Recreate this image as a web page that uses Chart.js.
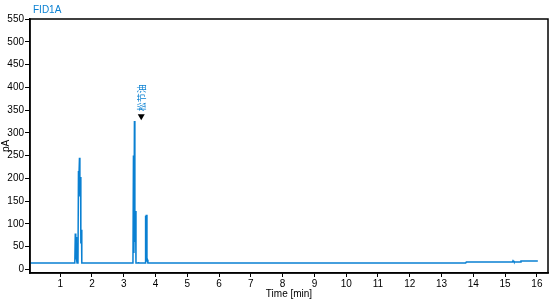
<!DOCTYPE html>
<html>
<head>
<meta charset="utf-8">
<script src="https://cdn.jsdelivr.net/npm/chart.js@4"></script>
<style>
  html, body { margin: 0; padding: 0; background: #fff; }
  #wrap { width: 554px; height: 300px; }
</style>
</head>
<body>
<div id="wrap"><canvas id="chart"></canvas></div>
<script>
// chromatogram trace FID1A
const times = [0.05, 1.46, 1.475, 1.49, 1.50, 1.515, 1.53, 1.56, 1.575, 1.585, 1.607, 1.62, 1.64, 1.65, 1.67, 1.68,
  3.29, 3.305, 3.32, 3.336, 3.35, 3.37, 3.385, 3.45, 3.46, 3.47, 3.67, 3.68, 3.695, 3.71, 3.73, 3.745, 3.76,
  13.76, 13.78, 15.23, 15.25, 15.28, 15.48, 15.5, 16.03];
const signal = [14, 14, 79, 22, 71, 22, 14, 16, 216, 190, 245, 160, 203, 57, 87, 14,
  14, 250, 36, 326, 60, 128, 14, 14, 16, 14, 14, 118, 60, 120, 20, 21, 14,
  14, 16, 16, 19, 16, 16, 18.5, 18.5];

const xTicks = [1, 2, 3, 4, 5, 6, 7, 8, 9, 10, 11, 12, 13, 14, 15, 16];
const yTicks = [0, 25, 50, 75, 100, 125, 150, 175, 200, 225, 250, 275, 300, 325, 350, 375, 400, 425, 450, 475, 500, 525, 550];

const peakNames = ['松节油'];
const peakTimes = [3.55];
const peakValues = [332];

const blue = '#0a80d2';
const font = 'Arial, "Liberation Sans", sans-serif';

let points = times.map((t, i) => ({ x: t, y: signal[i] }));

const extras = {
  id: 'extras',
  afterDraw(c) {
    const ctx = c.ctx;
    const a = c.chartArea;
    ctx.save();
    ctx.strokeStyle = '#000';
    ctx.lineWidth = 1.5;
    ctx.strokeRect(a.left, a.top, a.right - a.left, a.bottom - a.top);

    ctx.fillStyle = blue;
    ctx.font = '10px ' + font;
    ctx.textBaseline = 'middle';
    ctx.textAlign = 'left';
    ctx.fillText('FID1A', 33, 10);

    const xs = c.scales.x, ys = c.scales.y;
    peakNames.forEach((name, i) => {
      let px = xs.getPixelForValue(peakTimes[i]);
      let py = ys.getPixelForValue(peakValues[i]);
      ctx.fillStyle = '#000';
      ctx.beginPath();
      ctx.moveTo(px - 3.5, py - 4);
      ctx.lineTo(px + 3.5, py - 4);
      ctx.lineTo(px, py + 2);
      ctx.closePath();
      ctx.fill();
      ctx.save();
      ctx.translate(px, py - 7);
      ctx.rotate(-Math.PI / 2);
      ctx.fillStyle = blue;
      ctx.font = '9px "Noto Sans CJK SC", sans-serif';
      ctx.textAlign = 'left';
      ctx.textBaseline = 'middle';
      ctx.fillText(name, 0, 0);
      ctx.restore();
    });
    ctx.restore();
  }
};

let chart = new Chart(document.getElementById('chart').getContext('2d'), {
  type: 'line',
  data: {
    datasets: [{
      data: points,
      borderColor: blue,
      borderWidth: 1.5,
      pointRadius: 0,
      tension: 0,
      fill: false
    }]
  },
  options: {
    responsive: true,
    maintainAspectRatio: false,
    animation: false,
    layout: { padding: { top: 19, right: 6, left: 0, bottom: 0 } },
    plugins: { legend: { display: false }, tooltip: { enabled: false } },
    scales: {
      x: {
        type: 'linear',
        min: 0.05,
        max: 16.35,
        afterBuildTicks: s => { s.ticks = xTicks.map(v => ({ value: v })); },
        afterFit: s => { s.height = 27; },
        grid: { drawOnChartArea: false, tickLength: 4, color: '#000', lineWidth: 1 },
        border: { color: '#000', width: 1.5 },
        ticks: { color: '#000', font: { size: 10, family: font }, padding: 1, maxRotation: 0 },
        title: { display: true, text: 'Time [min]', color: '#000', font: { size: 10, family: font }, padding: { top: 0, bottom: 0 } }
      },
      y: {
        min: -8,
        max: 550,
        afterBuildTicks: s => { s.ticks = yTicks.map(v => ({ value: v })); },
        afterFit: s => { s.width = 30; },
        grid: { drawOnChartArea: false, tickLength: 5, color: '#000', lineWidth: 1 },
        border: { color: '#000', width: 1.5 },
        ticks: { color: '#000', font: { size: 10, family: font }, padding: 1 },
        title: { display: true, text: 'pA', color: '#000', font: { size: 10, family: font }, padding: 0 }
      }
    }
  },
  plugins: [extras]
});
</script>
</body>
</html>
